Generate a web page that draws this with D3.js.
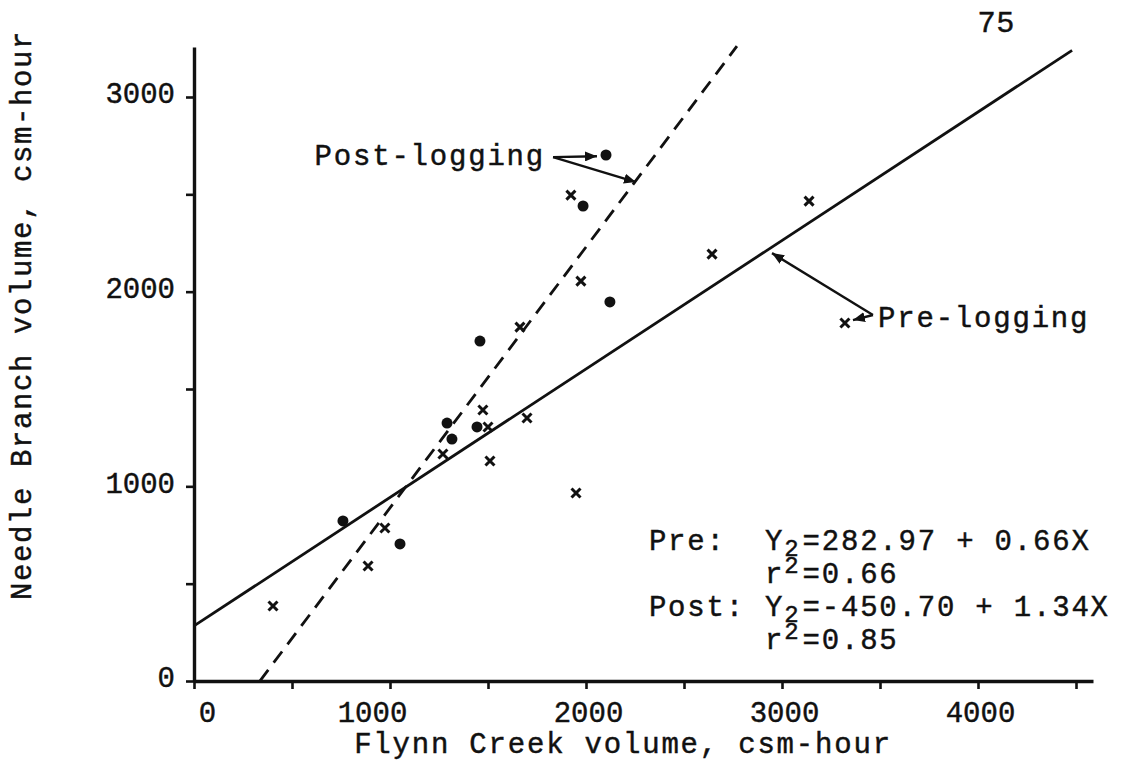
<!DOCTYPE html>
<html>
<head>
<meta charset="utf-8">
<script src="https://cdnjs.cloudflare.com/ajax/libs/d3/7.8.5/d3.min.js"></script>
<style>
  body { margin: 0; background: #fff; }
  text { font-family: "Liberation Mono", "Courier New", monospace; fill: #111; stroke: #111; stroke-width: 0.45px; }
</style>
</head>
<body>
<svg id="chart" width="1126" height="761"></svg>
<script>
// pre-logging storms (x marks)
var preFlynn  = [403, 888, 974, 1270, 1510, 1474, 1500, 1699, 1663, 1949, 1974, 1923, 2643, 3138, 3321];
var preNeedle = [385, 591, 786, 1166, 1130, 1392, 1305, 1351, 1818, 966, 2054, 2496, 2193, 2465, 1839];
// post-logging storms (dots)
var postFlynn  = [760, 1051, 1291, 1316, 1444, 1459, 2122, 1985, 2102];
var postNeedle = [822, 704, 1325, 1243, 1305, 1746, 1947, 2440, 2702];

// regression lines, Y2 = a + b X
var preFit  = {a: 282.97, b: 0.66, from: 0, to: 4480};
var postFit = {a: -450.70, b: 1.34, from: 336, to: 2770};

var xTicks = [0, 500, 1000, 1500, 2000, 2500, 3000, 3500, 4000, 4500];
var yTicks = [0, 500, 1000, 1500, 2000, 2500, 3000];
var xLabeled = [0, 1000, 2000, 3000, 4000];
var yLabeled = [0, 1000, 2000, 3000];

var svg = d3.select("#chart"),
    width = +svg.attr("width"),
    height = +svg.attr("height");

var x = d3.scaleLinear().domain([0, 4000]).range([194, 978]);
var y = d3.scaleLinear().domain([0, 3000]).range([681, 97]);

// axis scales run a bit past the last tick, like the hand drawn frame
var xAxisScale = x.copy().domain([0, x.invert(1093)]).range([x(0), 1093]);
var yAxisScale = y.copy().domain([0, y.invert(47)]).range([y(0), 47]);

var xNudge = {0: 13, 1000: -18};

var gx = svg.append("g")
    .attr("transform", "translate(0," + y(0) + ")")
    .call(d3.axisBottom(xAxisScale)
        .tickValues(xTicks)
        .tickSize(8)
        .tickSizeOuter(0)
        .tickPadding(12)
        .tickFormat(function(d) { return xLabeled.indexOf(d) >= 0 ? d : ""; }));
gx.selectAll("text")
    .attr("dx", function(d) { return xNudge[d] || 2; })
    .style("font-size", "29px");

var gy = svg.append("g")
    .attr("transform", "translate(" + x(0) + ",0)")
    .call(d3.axisLeft(yAxisScale)
        .tickValues(yTicks)
        .tickSize(8)
        .tickSizeOuter(0)
        .tickPadding(11)
        .tickFormat(function(d) { return yLabeled.indexOf(d) >= 0 ? d : ""; }));
gy.selectAll("text")
    .attr("dy", "0.2em")
    .style("font-size", "29px");

svg.selectAll(".domain").attr("stroke", "#111").attr("stroke-width", 3.4);
svg.selectAll(".tick line").attr("stroke", "#111").attr("stroke-width", 2.6);

// axis titles
svg.append("text")
    .attr("x", 623)
    .attr("y", 753)
    .attr("text-anchor", "middle")
    .style("font-size", "29px")
    .style("letter-spacing", "1.8px")
    .text("Flynn Creek volume, csm-hour");

svg.append("text")
    .attr("transform", "translate(31,315) rotate(-90)")
    .attr("text-anchor", "middle")
    .style("font-size", "29px")
    .style("letter-spacing", "1.6px")
    .text("Needle Branch volume, csm-hour");

// page number
svg.append("text")
    .attr("x", 997)
    .attr("y", 32)
    .attr("text-anchor", "middle")
    .style("font-family", "'Liberation Sans', Arial, sans-serif")
    .style("font-size", "30px")
    .style("letter-spacing", "2px")
    .text("75");

// regression lines
var line = d3.line().x(function(d) { return x(d[0]); }).y(function(d) { return y(d[1]); });
function fitPoints(f) {
    return [[f.from, f.a + f.b * f.from], [f.to, f.a + f.b * f.to]];
}

svg.append("path")
    .attr("d", line(fitPoints(preFit)))
    .attr("fill", "none")
    .attr("stroke", "#111")
    .attr("stroke-width", 2.8);

svg.append("path")
    .attr("d", line(fitPoints(postFit)))
    .attr("fill", "none")
    .attr("stroke", "#111")
    .attr("stroke-width", 2.8)
    .attr("stroke-dasharray", "14,9");

// points
var pre = preFlynn.map(function(v, i) { return [v, preNeedle[i]]; });
var post = postFlynn.map(function(v, i) { return [v, postNeedle[i]]; });

svg.selectAll(".pre")
    .data(pre)
    .enter().append("path")
    .attr("class", "pre")
    .attr("transform", function(d) { return "translate(" + x(d[0]) + "," + y(d[1]) + ")"; })
    .attr("d", "M-4.5,-4.5L4.5,4.5M4.5,-4.5L-4.5,4.5")
    .attr("stroke", "#111")
    .attr("stroke-width", 3);

svg.selectAll(".post")
    .data(post)
    .enter().append("circle")
    .attr("class", "post")
    .attr("cx", function(d) { return x(d[0]); })
    .attr("cy", function(d) { return y(d[1]); })
    .attr("r", 5.5)
    .attr("fill", "#111");

// labels with arrows
svg.append("defs").append("marker")
    .attr("id", "head")
    .attr("viewBox", "0 0 12 10")
    .attr("refX", 12)
    .attr("refY", 5)
    .attr("markerWidth", 12)
    .attr("markerHeight", 10)
    .attr("markerUnits", "userSpaceOnUse")
    .attr("orient", "auto")
    .append("path")
    .attr("d", "M0,0L12,5L0,10z")
    .attr("fill", "#111");

var arrows = [
    [[1832, 2691], [2056, 2696]],
    [[1832, 2691], [2255, 2563]],
    [[3464, 1880], [2949, 2198]],
    [[3464, 1880], [3362, 1854]]
];
svg.selectAll(".arrow")
    .data(arrows)
    .enter().append("path")
    .attr("class", "arrow")
    .attr("d", line)
    .attr("stroke", "#111")
    .attr("stroke-width", 2.4)
    .attr("fill", "none")
    .attr("marker-end", "url(#head)");

svg.append("text")
    .attr("x", x(1791))
    .attr("y", y(2650))
    .attr("text-anchor", "end")
    .style("font-size", "29px")
    .style("letter-spacing", "1.8px")
    .text("Post-logging");

svg.append("text")
    .attr("x", x(3490))
    .attr("y", y(1818))
    .style("font-size", "29px")
    .style("letter-spacing", "1.8px")
    .text("Pre-logging");

// equations
var eqNames = ["Pre:", "", "Post:", ""];
var eqLeft  = ["Y", "r", "Y", "r"];
var eqIdx   = ["2", "2", "2", "2"];
var eqRight = ["=282.97 + 0.66X", "=0.66", "=-450.70 + 1.34X", "=0.85"];
var eqShift = [6, -10, 6, -10];
var eqY     = [673, 503, 334, 164];

eqNames.forEach(function(n, i) {
    svg.append("text")
        .attr("x", x(2321))
        .attr("y", y(eqY[i]))
        .style("font-size", "29px")
        .style("letter-spacing", "1.8px")
        .text(n);
    var t = svg.append("text")
        .attr("x", x(2913))
        .attr("y", y(eqY[i]))
        .style("font-size", "29px")
        .style("letter-spacing", "1.8px");
    t.append("tspan").text(eqLeft[i]);
    t.append("tspan")
        .attr("dy", eqShift[i])
        .style("font-size", "24px")
        .style("letter-spacing", "4px")
        .text(eqIdx[i]);
    t.append("tspan").attr("dy", -eqShift[i]).text(eqRight[i]);
});
</script>
</body>
</html>
